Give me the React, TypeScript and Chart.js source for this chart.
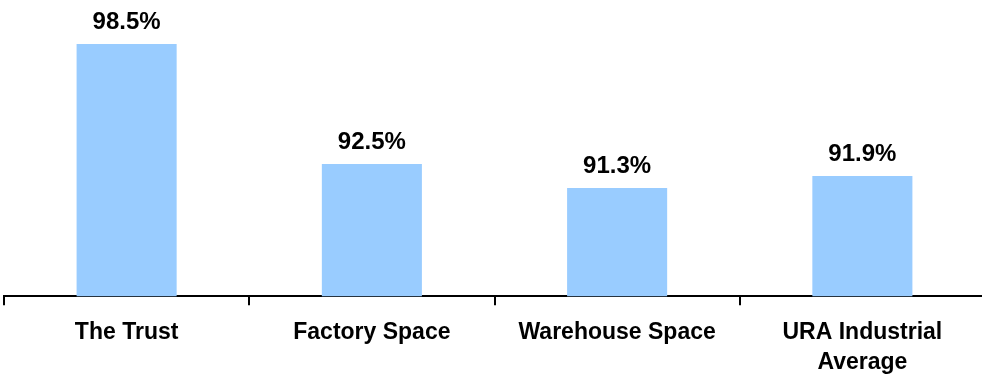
import React, { useEffect, useRef } from "react";
import { Chart, registerables } from "chart.js";

Chart.register(...registerables);

const categories: (string | string[])[] = ["The Trust", "Factory Space", "Warehouse Space", ["URA Industrial", "Average"]];
const occupancy: number[] = [98.5, 92.5, 91.3, 91.9];
const valueLabels: string[] = ["98.5%", "92.5%", "91.3%", "91.9%"];

const barColor = "#99CCFF";
const fontFamily = "'Liberation Sans', Arial, Helvetica, sans-serif";

const valueLabelPlugin = {
  id: "valueLabels",
  afterDatasetsDraw(chart: any) {
    const ctx = chart.ctx;
    const meta = chart.getDatasetMeta(0);
    ctx.save();
    ctx.fillStyle = "#000000";
    ctx.font = `bold 24px ${fontFamily}`;
    ctx.textAlign = "center";
    ctx.textBaseline = "alphabetic";
    meta.data.forEach((bar: any, i: number) => {
      ctx.fillText(valueLabels[i], bar.x, bar.y - 15);
    });
    ctx.restore();
  },
};

export default function App() {
  const ref = useRef<HTMLCanvasElement | null>(null);

  useEffect(() => {
    document.body.style.margin = "0";
    if (!ref.current) return;
    const chart = new Chart(ref.current, {
      type: "bar",
      data: {
        labels: categories,
        datasets: [
          {
            data: occupancy,
            backgroundColor: barColor,
            borderWidth: 0,
            barPercentage: 0.408,
            categoryPercentage: 1,
          },
        ],
      },
      options: {
        responsive: false,
        animation: false,
        layout: { padding: { left: 4, right: 5, top: 14, bottom: 0 } },
        plugins: {
          legend: { display: false },
          tooltip: { enabled: false },
        },
        scales: {
          x: {
            offset: true,
            border: { display: true, color: "#000000", width: 2 },
            grid: {
              offset: true,
              drawOnChartArea: false,
              drawTicks: true,
              tickLength: 9,
              color: "#000000",
              lineWidth: 2,
            },
            ticks: {
              color: "#000000",
              padding: 13,
              maxRotation: 0,
              autoSkip: false,
              font: { family: fontFamily, size: 23, weight: "bold", lineHeight: 1.3 },
            },
          },
          y: {
            display: false,
            min: 85.9,
            max: 100,
          },
        },
      },
      plugins: [valueLabelPlugin],
    });
    return () => chart.destroy();
  }, []);

  return (
    <div style={{ width: 982, height: 377, overflow: "hidden" }}>
      <canvas ref={ref} width={990} height={391} style={{ display: "block" }} />
    </div>
  );
}
